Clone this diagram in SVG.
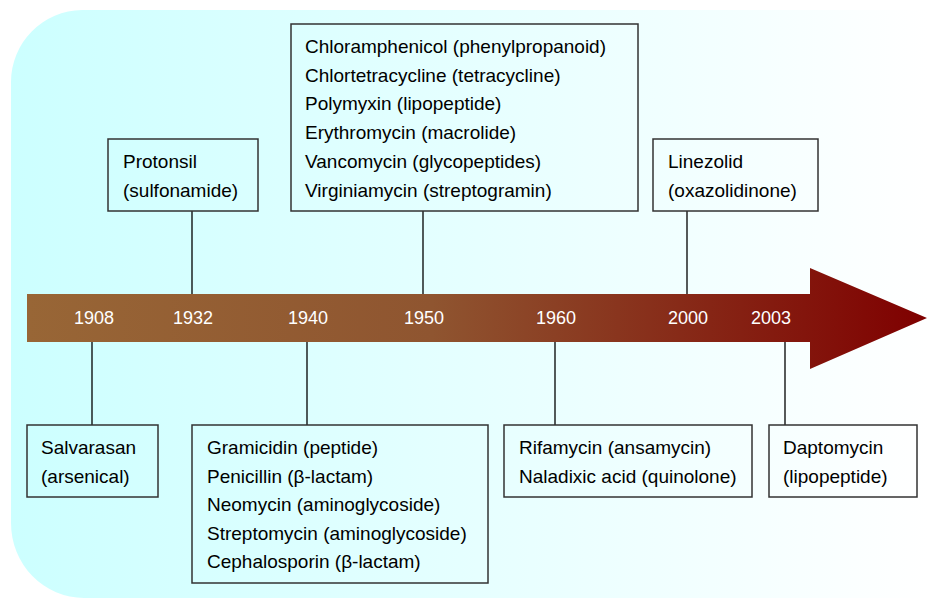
<svg xmlns="http://www.w3.org/2000/svg" width="927" height="599" viewBox="0 0 927 599">
<defs>
<linearGradient id="bg" x1="10" y1="0" x2="927" y2="0" gradientUnits="userSpaceOnUse">
<stop offset="0" stop-color="#ccffff"/>
<stop offset="1" stop-color="#ffffff"/>
</linearGradient>
<linearGradient id="arr" x1="27" y1="0" x2="927" y2="0" gradientUnits="userSpaceOnUse">
<stop offset="0" stop-color="#986636"/>
<stop offset="0.45" stop-color="#8f5530"/>
<stop offset="1" stop-color="#7f0000"/>
</linearGradient>
<style>
.box{fill:none;stroke:#333333;stroke-width:1.5}
.t{font-family:"Liberation Sans",Arial,sans-serif;font-size:19px;fill:#000000}
.yr{font-family:"Liberation Sans",Arial,sans-serif;font-size:18px;fill:#ffffff;text-anchor:middle}
.ln{stroke:#000000;stroke-width:1.3;fill:none}
</style>
</defs>
<path d="M82,10 H927 V598 H84 A73,75 0 0 1 11,523 V82 A72,72 0 0 1 82,10 Z" fill="url(#bg)"/>
<g id="timeline">
<path d="M27,294 H810 V268 L927,318 L810,369 V342 H27 Z" fill="url(#arr)"/>
<text class="yr" x="94" y="324">1908</text>
<text class="yr" x="193" y="324">1932</text>
<text class="yr" x="308" y="324">1940</text>
<text class="yr" x="424" y="324">1950</text>
<text class="yr" x="556" y="324">1960</text>
<text class="yr" x="688" y="324">2000</text>
<text class="yr" x="771" y="324">2003</text>
</g>
<g id="connectors">
<line class="ln" x1="192" y1="211" x2="192" y2="294"/>
<line class="ln" x1="423" y1="211" x2="423" y2="294"/>
<line class="ln" x1="687" y1="211" x2="687" y2="294"/>
<line class="ln" x1="92" y1="342" x2="92" y2="425"/>
<line class="ln" x1="307" y1="342" x2="307" y2="425"/>
<line class="ln" x1="555" y1="342" x2="555" y2="425"/>
<line class="ln" x1="785" y1="342" x2="785" y2="425"/>
</g>
<g id="protonsil">
<rect class="box" x="108" y="139" width="150" height="72"/>
<text class="t" x="123" y="168">Protonsil</text>
<text class="t" x="123" y="197">(sulfonamide)</text>
</g>
<g id="y1950">
<rect class="box" x="291" y="24" width="347" height="187"/>
<text class="t" x="305" y="53">Chloramphenicol (phenylpropanoid)</text>
<text class="t" x="305" y="81.7">Chlortetracycline (tetracycline)</text>
<text class="t" x="305" y="110.4">Polymyxin (lipopeptide)</text>
<text class="t" x="305" y="139.1">Erythromycin (macrolide)</text>
<text class="t" x="305" y="167.8">Vancomycin (glycopeptides)</text>
<text class="t" x="305" y="196.5">Virginiamycin (streptogramin)</text>
</g>
<g id="linezolid">
<rect class="box" x="653" y="139" width="165" height="72"/>
<text class="t" x="668" y="168">Linezolid</text>
<text class="t" x="668" y="197">(oxazolidinone)</text>
</g>
<g id="salvarasan">
<rect class="box" x="27" y="425" width="131" height="72"/>
<text class="t" x="41" y="454">Salvarasan</text>
<text class="t" x="41" y="483">(arsenical)</text>
</g>
<g id="y1940">
<rect class="box" x="192" y="425" width="296" height="158"/>
<text class="t" x="207" y="454">Gramicidin (peptide)</text>
<text class="t" x="207" y="482.5">Penicillin (β-lactam)</text>
<text class="t" x="207" y="511">Neomycin (aminoglycoside)</text>
<text class="t" x="207" y="539.5">Streptomycin (aminoglycoside)</text>
<text class="t" x="207" y="568">Cephalosporin (β-lactam)</text>
</g>
<g id="y1960">
<rect class="box" x="504" y="425" width="248" height="72"/>
<text class="t" x="519" y="454">Rifamycin (ansamycin)</text>
<text class="t" x="519" y="483">Naladixic acid (quinolone)</text>
</g>
<g id="daptomycin">
<rect class="box" x="769" y="425" width="148" height="72"/>
<text class="t" x="783" y="454">Daptomycin</text>
<text class="t" x="783" y="483">(lipopeptide)</text>
</g>
</svg>
